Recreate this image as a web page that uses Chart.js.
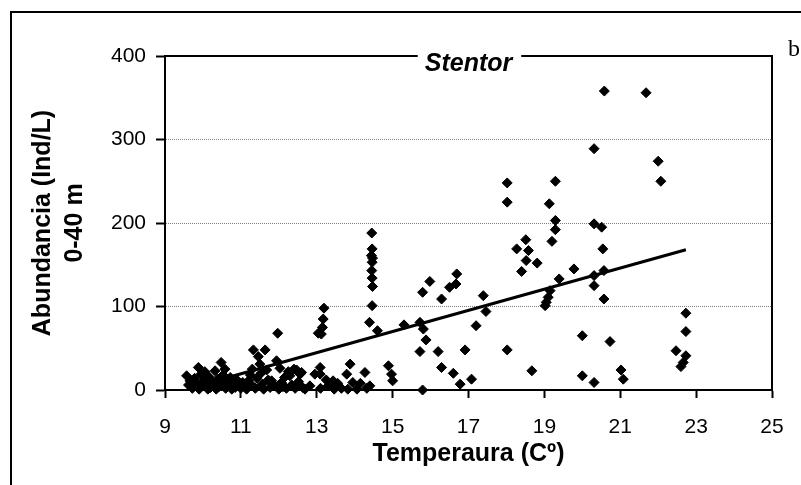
<!DOCTYPE html>
<html><head><meta charset="utf-8">
<script src="https://cdn.jsdelivr.net/npm/chart.js@4.4.1/dist/chart.umd.min.js"></script>
<style>html,body{margin:0;padding:0;background:#fff;}#wrap{position:relative;width:801px;height:485px;overflow:hidden;}</style>
</head><body><div id="wrap"><canvas id="c" width="801" height="485"></canvas></div>
<script>
const tempC = [
  9.57,9.62,9.66,9.72,9.78,9.83,9.88,9.9,9.95,9.98,
  10.02,10.05,10.1,10.13,10.16,10.2,10.24,10.28,10.32,10.35,
  10.38,10.42,10.48,10.5,10.53,10.58,10.6,10.63,10.67,10.72,
  10.76,10.8,10.85,10.9,10.95,11.0,11.05,11.1,11.15,11.2,
  11.25,11.28,11.3,11.33,11.38,11.42,11.46,11.5,11.53,11.56,
  11.6,11.64,11.68,11.72,11.77,11.81,11.87,11.94,11.97,12.0,
  12.03,12.07,12.11,12.15,12.2,12.25,12.29,12.34,12.4,12.43,
  12.47,12.52,12.56,12.6,12.63,12.69,
  12.82,12.95,13.04,13.09,13.09,13.1,13.12,13.15,13.17,13.19,
  13.25,13.3,13.43,13.46,13.55,13.65,13.79,13.82,13.88,13.95,
  14.06,14.15,14.27,14.32,14.4,
  14.45,14.46,14.44,14.47,14.46,14.45,14.46,14.47,14.46,14.39,14.6,
  14.89,14.97,15.0,15.3,15.72,15.81,15.88,15.72,15.79,15.79,
  15.98,16.2,16.29,16.29,16.5,16.6,16.69,16.67,16.78,16.91,
  17.08,17.2,17.39,17.46,
  18.02,18.02,18.02,18.27,18.4,18.51,18.52,18.58,18.67,18.81,
  19.02,19.05,19.1,19.15,19.13,19.2,19.29,19.29,19.29,19.39,
  19.78,20.0,20.0,20.31,20.31,20.31,20.31,20.31,20.51,20.54,
  20.57,20.57,20.58,20.73,21.02,21.08,21.68,22.0,22.07,22.47,
  22.6,22.66,22.73,22.73,22.73
];
const abund = [
  17,6,11,2,14,8,27,1,19,5,
  12,22,7,1,16,3,10,6,23,1,
  13,4,33,9,18,25,2,11,5,15,
  1,8,3,12,6,2,9,4,1,11,
  18,6,25,48,2,14,40,31,20,7,
  1,48,24,12,3,11,6,35,68,1,
  26,9,4,15,2,22,17,6,25,2,
  24,10,19,21,3,1,
  5,19,68,27,19,2,67,75,85,98,
  12,5,11,1,8,2,19,1,31,9,
  1,8,21,2,5,
  188,169,161,158,153,143,134,124,101,81,71,
  29,19,11,78,81,73,60,46,117,0,
  130,46,109,27,123,20,139,127,7,48,
  13,77,113,94,
  248,225,48,169,142,180,155,167,23,152,
  101,105,111,119,223,178,250,203,192,133,
  145,65,17,289,199,137,125,9,195,169,
  143,109,358,58,24,13,356,274,250,47,
  28,33,41,70,92
];
const trendTemp = [10.58, 22.73];
const trendAbund = [14, 168];
const xTickValues = [9, 11, 13, 15, 17, 19, 21, 23, 25];
const yTickValues = [0, 100, 200, 300, 400];
const chartTitle = 'Stentor';
const xTitle = 'Temperaura (Cº)';
const yTitle = ['Abundancia (Ind/L)', '0-40 m'];
const panelLetter = 'b';

const FONT = 'Arial, "Liberation Sans", sans-serif';

const framePlugin = {
  id: 'frame',
  beforeDraw(chart) {
    const ctx = chart.ctx;
    ctx.save();
    ctx.fillStyle = '#fff';
    ctx.fillRect(0, 0, chart.width, chart.height);
    ctx.fillStyle = '#000';
    ctx.fillRect(10, 11, 2, chart.height - 11);
    ctx.fillRect(10, 11, chart.width - 10, 2);
    ctx.restore();
  },
  beforeDatasetsDraw(chart) {
    const ctx = chart.ctx, a = chart.chartArea, t = chart.titleBlock;
    ctx.save();
    ctx.font = 'italic bold 25px ' + FONT;
    const w = ctx.measureText(chartTitle).width;
    const cx = (t.left + t.right) / 2;
    ctx.strokeStyle = '#000';
    ctx.lineWidth = 2;
    ctx.beginPath();
    ctx.moveTo(a.left, a.top); ctx.lineTo(cx - w / 2 - 7, a.top);
    ctx.moveTo(cx + w / 2 + 9, a.top); ctx.lineTo(a.right, a.top); ctx.lineTo(a.right, a.bottom + 1);
    ctx.stroke();
    ctx.restore();
  },
  afterDraw(chart) {
    const ctx = chart.ctx;
    ctx.save();
    ctx.fillStyle = '#000';
    ctx.font = '24px "Liberation Serif", "Times New Roman", serif';
    ctx.textBaseline = 'alphabetic';
    ctx.fillText(panelLetter, 788, 56);
    ctx.restore();
  }
};

new Chart(document.getElementById('c'), {
  type: 'scatter',
  data: {
    datasets: [
      {
        data: trendTemp.map((x, i) => ({x: x, y: trendAbund[i]})),
        showLine: true, borderColor: '#000', borderWidth: 3, pointRadius: 0, fill: false, clip: false
      },
      {
        data: tempC.map((x, i) => ({x: x, y: abund[i]})),
        pointStyle: 'rectRot', pointRadius: 5, backgroundColor: '#000', borderColor: '#000', borderWidth: 1,
        showLine: false, clip: false
      }
    ]
  },
  options: {
    responsive: false, animation: false, devicePixelRatio: 1,
    layout: {padding: {left: 0, right: 29, top: 0, bottom: 0}},
    plugins: {
      legend: {display: false},
      tooltip: {enabled: false},
      title: {
        display: true, text: chartTitle, color: '#000', fullSize: false,
        font: {family: FONT, size: 25, weight: 'bold', style: 'italic', lineHeight: 1.2},
        padding: {top: 48.8, bottom: -22.8}
      }
    },
    scales: {
      x: {
        type: 'linear', min: 9, max: 25,
        afterBuildTicks: s => { s.ticks = xTickValues.map(v => ({value: v})); },
        afterFit: s => { s.height = 95; },
        ticks: {color: '#000', font: {family: FONT, size: 21}, padding: 17, maxRotation: 0, autoSkip: false},
        grid: {drawOnChartArea: false, drawTicks: true, tickLength: 8, tickColor: '#000', tickWidth: 2},
        border: {display: true, color: '#000', width: 2},
        title: {display: true, text: xTitle, color: '#000',
          font: {family: FONT, size: 25, weight: 'bold', lineHeight: 1.2}, padding: {top: 0, bottom: 15.7}}
      },
      y: {
        type: 'linear', min: 0, max: 400,
        afterBuildTicks: s => { s.ticks = yTickValues.map(v => ({value: v})); },
        afterFit: s => { s.width = 165; },
        ticks: {color: '#000', font: {family: FONT, size: 21}, padding: 10},
        grid: {
          color: c => (c.tick && c.tick.value > 0 && c.tick.value < 400) ? '#808080' : 'rgba(0,0,0,0)',
          lineWidth: 1, drawTicks: true, tickLength: 9, tickColor: '#000', tickWidth: 2, tickBorderDash: []
        },
        border: {display: true, color: '#000', width: 2, dash: [1, 1]},
        title: {display: true, text: yTitle, color: '#000',
          font: {family: FONT, size: 25, weight: 'bold', lineHeight: 1.28}, padding: {top: 27, bottom: 0}}
      }
    }
  },
  plugins: [framePlugin]
});
</script>
</body></html>
